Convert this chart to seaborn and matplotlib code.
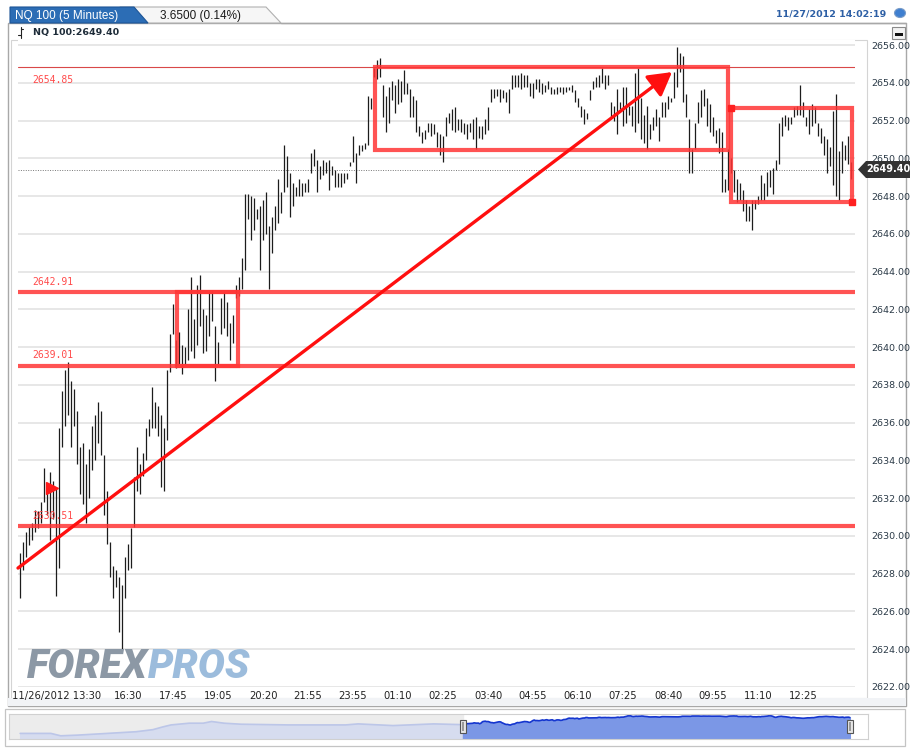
import numpy as np
import pandas as pd
import matplotlib
matplotlib.use("Agg")
import matplotlib.pyplot as plt
import matplotlib.transforms as mtransforms
from matplotlib.patches import Polygon, Rectangle, Circle
import seaborn as sns

# ---------------- data ----------------
bar_high = [
    2629.1, 2629.7, 2630.2, 2630.5, 2630.7, 2631.4, 2631.3, 2631.8, 2633.6, 2632.7,
    2633.4, 2632.9, 2632.6, 2635.7, 2637.7, 2638.8, 2639.2, 2638.2, 2637.8, 2636.6,
    2634.7, 2634.9, 2633.8, 2634.6, 2635.8, 2636.4, 2637.1, 2636.6, 2634.3, 2632.4,
    2629.7, 2628.4, 2628.2, 2627.8, 2627.4, 2628.9, 2629.6, 2630.4, 2633.1, 2634.7,
    2633.8, 2634.4, 2635.7, 2636.2, 2637.9, 2637.1, 2636.9, 2636.4, 2635.7, 2638.8,
    2640.7, 2642.3, 2640.4, 2640.8, 2640.1, 2640.0, 2642.0, 2643.7, 2641.5, 2643.3,
    2643.8, 2642.0, 2641.7, 2642.9, 2643.0, 2641.1, 2640.3, 2642.6, 2642.9, 2642.4,
    2641.3, 2641.7, 2643.3, 2643.7, 2644.7, 2648.1, 2648.1, 2648.0, 2647.9, 2647.3,
    2647.5, 2647.8, 2648.2, 2646.4, 2646.9, 2647.5, 2648.9, 2648.2, 2650.7, 2650.1,
    2649.2, 2648.7, 2648.5, 2648.9, 2648.7, 2648.7, 2648.9, 2650.3, 2650.5, 2649.9,
    2649.6, 2649.9, 2649.8, 2649.9, 2649.6, 2649.4, 2649.2, 2649.2, 2649.2, 2649.2,
    2649.8, 2651.2, 2650.3, 2650.7, 2650.7, 2650.8, 2653.3, 2653.2, 2654.8, 2655.2,
    2655.3, 2653.9, 2653.3, 2653.8, 2654.1, 2653.9, 2654.2, 2654.1, 2654.7, 2654.0,
    2653.7, 2653.3, 2653.1, 2651.7, 2651.4, 2651.5, 2651.9, 2651.9, 2651.8, 2651.4,
    2651.3, 2651.2, 2652.2, 2652.4, 2652.6, 2652.7, 2652.1, 2652.1, 2651.9, 2651.8,
    2651.9, 2652.1, 2652.2, 2651.7, 2651.7, 2652.1, 2652.7, 2653.7, 2653.7, 2653.7,
    2653.7, 2653.6, 2653.5, 2653.7, 2654.4, 2654.4, 2654.4, 2654.5, 2654.4, 2654.4,
    2654.0, 2654.0, 2654.2, 2654.2, 2654.0, 2653.9, 2654.1, 2653.8, 2653.7, 2653.8,
    2653.8, 2653.8, 2653.8, 2653.8, 2653.9, 2653.6, 2653.2, 2652.8, 2652.6, 2652.4,
    2653.6, 2654.1, 2654.3, 2654.4, 2654.8, 2654.4, 2654.4, 2653.0, 2652.8, 2653.7,
    2653.0, 2653.8, 2653.8, 2652.8, 2652.8, 2654.5, 2654.8, 2653.2, 2652.3, 2652.8,
    2651.8, 2652.2, 2652.6, 2652.2, 2653.0, 2653.0, 2653.3, 2653.2, 2654.6, 2655.9,
    2655.6, 2655.4, 2653.4, 2652.1, 2650.5, 2651.9, 2653.0, 2653.6, 2653.7, 2653.2,
    2652.9, 2652.2, 2651.5, 2651.6, 2651.4, 2648.9, 2650.5, 2650.0, 2649.4, 2648.9,
    2648.7, 2648.3, 2647.8, 2647.5, 2647.8, 2647.8, 2648.0, 2649.1, 2648.7, 2649.3,
    2649.4, 2649.5, 2649.9, 2651.9, 2652.2, 2652.3, 2652.2, 2652.2, 2652.7, 2652.8,
    2653.9, 2653.0, 2652.2, 2652.6, 2652.9, 2652.7, 2651.9, 2651.6, 2651.2, 2651.0,
    2650.6, 2652.5, 2653.4, 2650.4, 2650.9, 2650.7, 2651.2, 2649.8,
]
bar_low = [
    2626.7, 2628.2, 2628.9, 2629.5, 2629.8, 2630.2, 2630.4, 2630.7, 2631.8, 2631.1,
    2629.8, 2630.9, 2626.8, 2628.3, 2634.7, 2635.8, 2636.4, 2634.7, 2635.8, 2633.8,
    2632.2, 2631.7, 2630.7, 2632.0, 2633.5, 2634.0, 2634.9, 2634.3, 2631.1, 2629.6,
    2627.8, 2626.7, 2627.3, 2624.9, 2624.0, 2626.7, 2628.2, 2628.3, 2630.5, 2632.4,
    2632.2, 2633.2, 2634.0, 2635.3, 2635.7, 2635.7, 2635.3, 2632.6, 2632.4, 2635.1,
    2638.7, 2640.7, 2638.9, 2639.1, 2638.6, 2639.1, 2639.3, 2639.8, 2639.4, 2640.1,
    2641.1, 2639.7, 2639.8, 2640.6, 2641.4, 2638.2, 2639.1, 2640.7, 2641.0, 2640.6,
    2639.3, 2640.2, 2642.6, 2642.7, 2643.1, 2644.1, 2646.8, 2645.7, 2646.2, 2646.8,
    2644.1, 2645.7, 2646.0, 2643.1, 2645.0, 2646.2, 2646.6, 2647.1, 2648.2, 2648.5,
    2646.9, 2647.5, 2648.0, 2648.0, 2648.0, 2648.2, 2648.2, 2649.2, 2649.6, 2648.2,
    2648.9, 2649.1, 2649.2, 2648.3, 2649.1, 2648.5, 2648.5, 2648.5, 2648.7, 2648.9,
    2649.6, 2649.8, 2648.7, 2650.2, 2650.4, 2650.5, 2650.7, 2652.6, 2654.3, 2654.2,
    2654.3, 2652.2, 2651.4, 2651.9, 2653.1, 2652.4, 2652.9, 2653.0, 2653.4, 2653.4,
    2652.2, 2652.2, 2651.4, 2651.2, 2650.8, 2651.0, 2651.4, 2651.2, 2651.3, 2650.6,
    2650.2, 2649.8, 2651.2, 2651.9, 2651.5, 2651.4, 2651.5, 2651.4, 2651.3, 2651.0,
    2651.4, 2651.0, 2650.5, 2651.1, 2651.0, 2651.3, 2651.5, 2653.0, 2653.2, 2653.3,
    2653.0, 2653.2, 2653.0, 2652.4, 2653.7, 2653.8, 2653.8, 2653.7, 2653.8, 2653.8,
    2653.3, 2653.2, 2653.7, 2653.5, 2653.4, 2653.5, 2653.7, 2653.4, 2653.4, 2653.4,
    2653.5, 2653.4, 2653.5, 2653.6, 2653.5, 2653.0, 2652.7, 2652.2, 2651.8, 2652.1,
    2653.1, 2653.7, 2653.8, 2653.8, 2654.0, 2653.7, 2653.9, 2652.2, 2652.0, 2651.3,
    2652.6, 2651.7, 2651.9, 2652.3, 2651.7, 2651.4, 2651.9, 2651.0, 2650.8, 2650.5,
    2651.0, 2651.5, 2651.7, 2650.9, 2652.2, 2652.2, 2652.6, 2653.0, 2653.2, 2653.8,
    2654.6, 2653.0, 2652.2, 2649.2, 2649.2, 2650.5, 2651.9, 2652.2, 2652.8, 2651.7,
    2651.4, 2651.2, 2650.8, 2650.3, 2648.2, 2648.2, 2648.3, 2649.2, 2648.2, 2647.7,
    2647.8, 2647.2, 2646.7, 2646.7, 2646.2, 2647.3, 2647.6, 2647.8, 2647.8, 2648.0,
    2648.5, 2648.1, 2649.4, 2649.7, 2651.2, 2651.7, 2651.5, 2651.8, 2652.2, 2652.3,
    2652.3, 2652.2, 2651.7, 2651.3, 2651.7, 2651.9, 2651.2, 2650.8, 2650.2, 2649.2,
    2649.6, 2648.6, 2648.0, 2647.8, 2649.2, 2649.9, 2649.7, 2648.9,
]

x_tick_idx = [0, 36, 51, 66, 81, 96, 111, 126, 141, 156, 171, 186, 201, 216, 231, 246, 261]
x_tick_lab = ["11/26/2012 13:30", "16:30", "17:45", "19:05", "20:20", "21:55", "23:55",
              "01:10", "02:25", "03:40", "04:55", "06:10", "07:25", "08:40", "09:55",
              "11:10", "12:25"]
y_ticks = list(range(2622, 2657, 2))

level_values = [2654.85, 2642.91, 2639.01, 2630.51]
level_widths = ["thin", "thick", "thick", "thick"]

# boxes: (first bar, last bar, low, high)
box_first = [52.3, 118.3, 237.0]
box_last = [72.7, 236.0, 277.3]
box_low = [2639.01, 2650.42, 2647.67]
box_high = [2642.91, 2654.85, 2652.65]

trend_start = (-0.67, 2628.3)
trend_end = (217.3, 2654.57)
marker_pt = (10.7, 2632.55)
last_price = 2649.40

nav_hist_pos = [-317, -295, -288, -276, -259, -234, -222, -215, -209, -196, -186,
                -180, -171, -159, -125, -84, -75, -50, -21, -1]
nav_hist_price = [2599.4, 2599.4, 2591.9, 2594.0, 2598.3, 2604.7, 2611.2, 2619.7,
                  2626.1, 2631.5, 2631.5, 2636.8, 2631.5, 2628.3, 2626.1, 2626.1,
                  2629.3, 2624.0, 2629.3, 2627.0]

# ---------------- figure ----------------
W, H = 913, 750
sns.set_style("white")
plt.rcParams['font.family'] = ['DejaVu Sans']

fig = plt.figure(figsize=(W / 100, H / 100), dpi=100)
fig.patch.set_facecolor('white')


def fx(x):
    return x / W


def fy(y):
    return 1 - y / H


def frect(x0, y0, x1, y1, **kw):
    r = Rectangle((fx(x0), fy(y1)), fx(x1) - fx(x0), fy(y0) - fy(y1),
                  transform=fig.transFigure, **kw)
    fig.add_artist(r)
    return r


def fpoly(pts, **kw):
    p = Polygon([(fx(a), fy(b)) for a, b in pts], closed=True,
                transform=fig.transFigure, **kw)
    fig.add_artist(p)
    return p


# panel frames
frect(8, 23, 906, 706, fill=False, ec='#a8a8a8', lw=1.0, zorder=0)
frect(11, 40, 867, 698, fill=False, ec='#d4d4d4', lw=0.8, zorder=0)
frect(8, 698, 906, 706, fc='#f1f3f6', ec='none', zorder=0)

# header tabs
fpoly([(120, 7), (266, 7), (281, 23), (120, 23)], fc='#f6f6f6', ec='#b0b0b0', lw=0.8)
fpoly([(10, 7), (134, 7), (148, 23), (10, 23)], fc='#2c6db5', ec='#1d5597', lw=0.8)
fig.add_artist(plt.Line2D([fx(281), fx(906)], [fy(23), fy(23)], transform=fig.transFigure,
                          color='#a8a8a8', lw=1.0))
fig.text(fx(15), fy(15.5), "NQ 100 (5 Minutes)", color='white', fontsize=8.5,
         family='Liberation Sans', ha='left', va='center')
fig.text(fx(160), fy(15.5), "3.6500 (0.14%)", color='#1a1a1a', fontsize=8.5,
         family='Liberation Sans', ha='left', va='center')
fig.text(fx(886), fy(14), "11/27/2012 14:02:19", color='#2d5fa5', fontsize=6.8,
         fontweight='bold', ha='right', va='center')
fig.add_artist(Circle((fx(900), fy(13)), 5.5 / W, transform=fig.transFigure,
                      fc='#3f7fd0', ec='#7a9cc8', lw=0.8))
fig.text(fx(33), fy(32.5), "NQ 100:2649.40", color='#1d2b38', fontsize=6.8,
         fontweight='bold', ha='left', va='center')
fig.add_artist(plt.Line2D([fx(20.5), fx(20.5)], [fy(27), fy(38)], transform=fig.transFigure,
                          color='#222', lw=0.8))
fig.add_artist(plt.Line2D([fx(20.5), fx(23)], [fy(29), fy(29)], transform=fig.transFigure,
                          color='#222', lw=0.8))
fig.add_artist(plt.Line2D([fx(18), fx(20.5)], [fy(35), fy(35)], transform=fig.transFigure,
                          color='#222', lw=0.8))
# minimise button
frect(892, 27, 905, 39, fc='#f2f2f2', ec='#8a8a8a', lw=0.8)
frect(894.5, 33.5, 902.5, 35.5, fc='#111111', ec='none')

# ---------------- main axes ----------------
ax = fig.add_axes([fx(18), fy(687), (855 - 18) / W, (687 - 40) / H])
ax.set_facecolor('white')
idx = np.arange(len(bar_high))
ax.vlines(idx, bar_low, bar_high, color='#1c1c1c', lw=0.9, zorder=3)

ax.set_xlim(-0.67, 278.3)
ax.set_ylim(2622.0, 2656.27)
ax.set_yticks(y_ticks)
ax.set_yticklabels([f"{v:.2f}" for v in y_ticks])
ax.yaxis.tick_right()
ax.tick_params(axis='y', length=0, pad=12, labelsize=6.8, labelcolor='#2c3b48')
ax.yaxis.grid(True, color='#e0e0e0', lw=1.1, zorder=0)
ax.xaxis.grid(False)
ax.set_xticks(x_tick_idx)
ax.set_xticklabels(x_tick_lab)
ax.tick_params(axis='x', length=0, pad=3, labelsize=7.2, labelcolor='#222222')
first = ax.get_xticklabels()[0]
first.set_horizontalalignment('left')
first.set_transform(first.get_transform() +
                    mtransforms.ScaledTranslation(-8 / 100, 0, fig.dpi_scale_trans))
for s in ax.spines.values():
    s.set_visible(False)

# dotted last-price line
ax.axhline(last_price, color='#777777', lw=0.7, ls=(0, (1, 1.5)), zorder=2)

# level lines and their labels
for val, kind in zip(level_values, level_widths):
    if kind == "thin":
        ax.axhline(val, color='#d94848', lw=0.8, zorder=4)
        ax.text(4, val - 0.7, f"{val:.2f}", color='#ff4a4a', fontsize=7,
                family='DejaVu Sans Mono', va='center', ha='left', zorder=5)
    else:
        ax.axhline(val, color='#ff3535', lw=3.0, alpha=0.85, zorder=4)
        ax.text(4, val + 0.55, f"{val:.2f}", color='#ff4a4a', fontsize=7,
                family='DejaVu Sans Mono', va='center', ha='left', zorder=5)

# boxes
for a, b, lo, hi in zip(box_first, box_last, box_low, box_high):
    ax.add_patch(Rectangle((a, lo), b - a, hi - lo, fill=False, ec='#ff3535',
                           lw=3.0, alpha=0.85, zorder=4))
ax.plot([box_first[2], box_last[2]], [box_high[2], box_low[2]], 's', ms=4.5,
        color='#ff2020', zorder=5, clip_on=False)

# trend arrow
ax.annotate('', xy=trend_end, xytext=trend_start,
            arrowprops=dict(arrowstyle='-|>,head_length=0.7,head_width=0.4',
                            color='#ff0f0f', lw=2.4, shrinkA=0, shrinkB=0,
                            mutation_scale=20), zorder=6)
ax.plot([marker_pt[0]], [marker_pt[1]], marker='>', ms=9, color='#ff1a1a', zorder=6)

# watermark
fig.text(fx(27), fy(678), "FOREX", color='#8c98a5', fontsize=29, family='Roboto',
         fontweight='heavy', fontstyle='italic', ha='left', va='baseline', zorder=1)
fig.text(fx(148), fy(678), "PROS", color='#9cbcdc', fontsize=29, family='Roboto',
         fontweight='heavy', fontstyle='italic', ha='left', va='baseline', zorder=1)

# price tag
fpoly([(858, 169.5), (866, 161), (910, 161), (910, 178), (866, 178)],
      fc='#333333', ec='none')
fig.text(fx(888), fy(169.5), f"{last_price:.2f}", color='white', fontsize=7,
         fontweight='bold', ha='center', va='center')

# ---------------- navigator ----------------
frect(5, 709, 905, 746, fill=False, ec='#c4c4c4', lw=0.9)
nav = fig.add_axes([fx(9), fy(738.5), (868 - 9) / W, (738.5 - 714) / H])
nav.set_facecolor('white')
nav.set_xlim(-325, 290)
nav.set_ylim(2583.4, 2660.4)
nav.axvspan(-325, 0, color='#ececec', zorder=0)
nav.fill_between(nav_hist_pos, nav_hist_price, 2583.4, color='#d6dcef', zorder=1)
sns.lineplot(x=nav_hist_pos, y=nav_hist_price, ax=nav, color='#bcc6e8', lw=1.2, zorder=2)
mid = (np.array(bar_high) + np.array(bar_low)) / 2
nav.fill_between(idx, mid, 2583.4, color='#7b97e6', zorder=1)
sns.lineplot(x=idx, y=mid, ax=nav, color='#1536cf', lw=1.2, zorder=2)
nav.set_xticks([])
nav.set_yticks([])
nav.set_xlabel('')
nav.set_ylabel('')
for s in nav.spines.values():
    s.set_color('#d0d0d0')
    s.set_linewidth(0.8)
for hx in (463, 850):
    frect(hx - 3, 720, hx + 3, 733, fc='#e6e6e6', ec='#555555', lw=0.8, zorder=5)
    frect(hx - 1, 722, hx + 1, 731, fc='#999999', ec='none', zorder=6)

fig.savefig("out.png", dpi=100, facecolor='white')
